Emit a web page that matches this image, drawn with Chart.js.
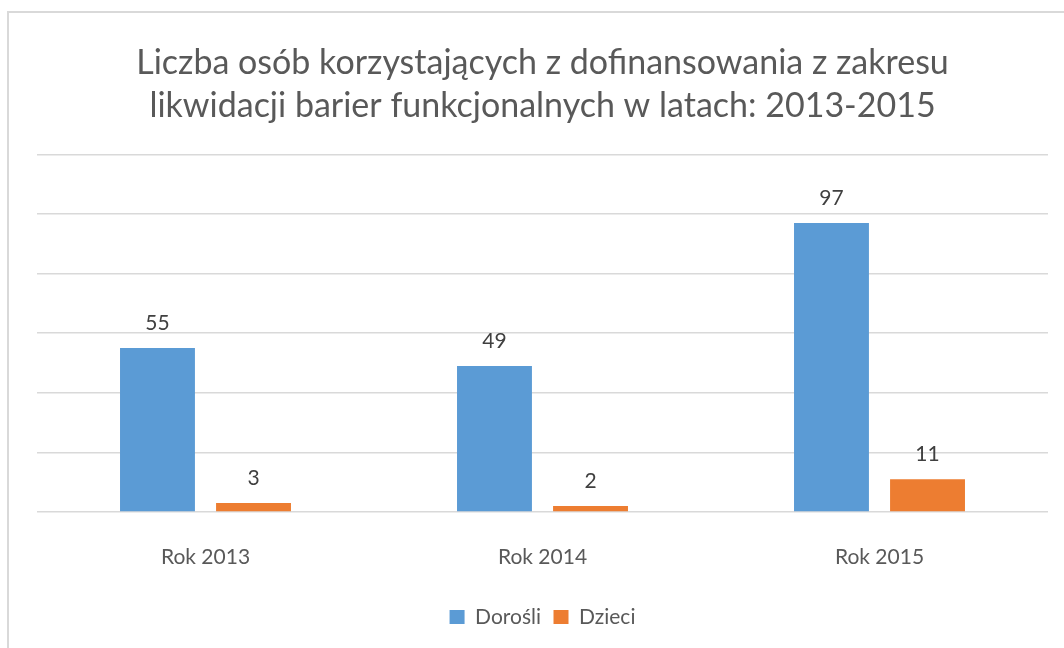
<!DOCTYPE html>
<html>
<head>
<meta charset="utf-8">
<script src="https://cdn.jsdelivr.net/npm/chart.js@4"></script>
<style>
  body { margin: 0; background: #fff; }
  #frame { position: absolute; left: 7px; top: 11px; width: 1100px; height: 700px;
           border-left: 2px solid #d9d9d9; border-top: 2px solid #d9d9d9; }
  #wrap { position: absolute; left: 0; top: 0; width: 1064px; height: 648px; }
</style>
</head>
<body>
<div id="frame"></div>
<div id="wrap"><canvas id="myChart"></canvas></div>
<script>
const categories = ["Rok 2013", "Rok 2014", "Rok 2015"];
const dorosli = [55, 49, 97];
const dzieci = [3, 2, 11];
const titleLines = [
  "Liczba osób korzystających z dofinansowania z zakresu",
  "likwidacji barier funkcjonalnych w latach: 2013-2015"
];

const FONT = "Lato, 'Open Sans', sans-serif";

// simple value labels above bars
const valueLabels = {
  id: "valueLabels",
  afterDatasetsDraw(chart) {
    const c = chart.ctx;
    c.save();
    c.font = "21px " + FONT;
    c.fillStyle = "#404040";
    c.textAlign = "center";
    c.textBaseline = "middle";
    chart.data.datasets.forEach((ds, i) => {
      chart.getDatasetMeta(i).data.forEach((bar, j) => {
        c.fillText(ds.data[j], bar.x, bar.y - 25);
      });
    });
    c.restore();
  }
};

const ctx = document.querySelector("#myChart");

new Chart(ctx, {
  type: "bar",
  data: {
    labels: categories,
    datasets: [
      {
        label: "Dorośli",
        data: dorosli,
        backgroundColor: "#5B9BD5",
        categoryPercentage: 0.57,
        barPercentage: 0.78,
      },
      {
        label: "Dzieci",
        data: dzieci,
        backgroundColor: "#ED7D31",
        categoryPercentage: 0.57,
        barPercentage: 0.78,
      },
    ],
  },
  options: {
    responsive: true,
    maintainAspectRatio: false,
    animation: false,
    layout: { padding: { left: 37, right: 16, top: 0, bottom: 10.5 } },
    plugins: {
      title: {
        display: true,
        text: titleLines,
        color: "#595959",
        font: { family: FONT, size: 34, weight: "normal", lineHeight: 1.27 },
        padding: { top: 41, bottom: 27 },
      },
      legend: {
        position: "bottom",
        labels: {
          color: "#595959",
          font: { family: FONT, size: 21 },
          boxWidth: 15,
          boxHeight: 14,
          padding: 12.5,
        },
      },
      tooltip: { enabled: false },
    },
    scales: {
      x: {
        grid: { display: false },
        border: { display: false },
        ticks: { color: "#595959", font: { family: FONT, size: 21 }, padding: 24.4 },
      },
      y: {
        min: 0,
        max: 120,
        ticks: { display: false, stepSize: 20 },
        grid: { color: "#d9d9d9", lineWidth: 1.5, drawTicks: false },
        border: { display: false },
      },
    },
  },
  plugins: [valueLabels],
});
</script>
</body>
</html>
